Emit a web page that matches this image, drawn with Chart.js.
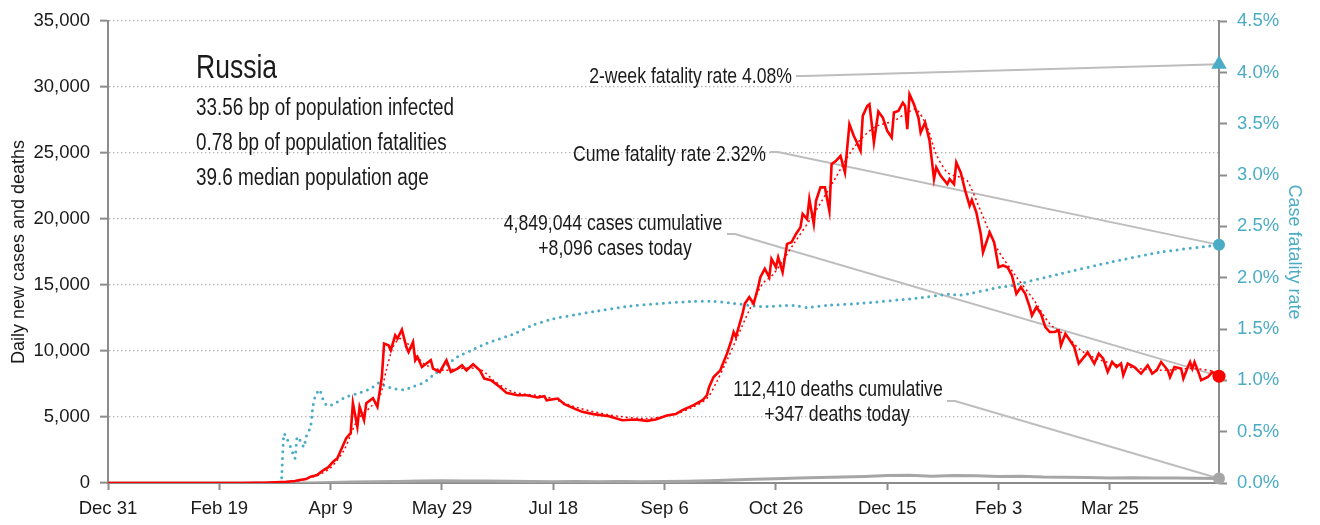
<!DOCTYPE html>
<html>
<head>
<meta charset="utf-8">
<script src="https://cdn.jsdelivr.net/npm/chart.js@4.4.1/dist/chart.umd.min.js"></script>
<style>
    html, body { margin: 0; padding: 0; background: #fff; }
    canvas { display: block; }
</style>
</head>
<body>
<canvas id="grafica" width="1320" height="525"></canvas>
<script>
// Eje X: dias contados desde el 31 de diciembre de 2019
const etiquetasX = ['Dec 31','Feb 19','Apr 9','May 29','Jul 18','Sep 6','Oct 26','Dec 15','Feb 3','Mar 25'];
const pasoDias = 50;
const ultimoDia = 499;

// Casos nuevos diarios
const diasCasos = [0,30,60,66,70,75,80,84,86,89,91,94,95,97,99,101,103,105,107,109,110,112,113,115,116,119,121,123,124,126,127,129,130,132,134,135,137,138,139,141,143,145,146,149,152,154,157,159,161,164,167,169,172,176,179,184,188,193,196,197,202,205,210,213,218,225,231,237,242,246,251,255,258,263,267,269,270,272,275,278,280,281,282,285,286,288,290,292,293,295,297,298,300,301,303,305,307,309,311,312,314,315,317,318,320,322,324,325,327,329,331,333,335,336,338,339,341,342,344,346,348,350,352,353,355,357,358,359,360,362,364,365,367,369,371,372,374,377,378,380,381,383,385,387,388,390,392,393,396,398,400,402,404,406,408,410,412,414,415,417,419,421,423,425,427,428,430,432,434,436,439,440,443,445,447,449,451,453,455,456,458,461,464,467,469,471,473,476,477,479,482,483,485,486,487,488,490,491,494,496,499];
const casosDiarios = [0,0,0,10,20,60,100,150,230,300,480,600,750,1000,1200,1600,1880,2640,3400,3780,6050,4260,5770,4760,6050,6420,5770,8030,10560,10430,10050,11190,10940,11620,10300,9920,10680,9300,9550,8790,9050,9300,8670,8410,9300,8410,8670,8920,8540,8990,8540,7910,7790,7280,6830,6650,6650,6480,6580,6270,6400,5970,5600,5390,5220,5060,4760,4810,4710,4810,5120,5220,5520,5900,6270,6650,7280,8030,8540,9800,10810,11440,11060,12830,13580,14080,13580,14840,15600,16230,15590,16980,16350,17100,15970,18120,18240,18870,19370,20390,20000,21520,19630,21390,22400,22400,20630,24160,24410,24790,23530,27190,26300,25930,25170,27820,28570,28700,25800,28140,27690,26680,26180,28070,28190,28820,28570,26810,29450,28700,27690,26550,27310,25930,23030,23910,23280,22650,23030,22650,24290,23530,22150,21010,21450,20510,18870,17480,19000,18240,16350,16480,16350,15720,14340,14840,14340,13330,12700,13330,12830,11810,11440,11440,11560,10430,11310,10810,10300,9050,9670,9920,9050,9800,9420,8410,9170,8790,9050,8160,9050,8790,8290,8920,8290,8540,9170,8540,8030,8790,8670,7910,8790,9170,8670,9170,8290,7790,8030,8410,8096];

// Promedio movil de 7 dias
const diasPromedio = [0,70,80,85,90,95,100,106,112,118,122,125,128,131,134,139,143,151,157,166,170,173,182,197,211,226,241,253,263,269,273,278,282,288,294,299,308,317,326,335,344,353,359,363,368,372,377,383,386,392,399,407,416,423,431,437,446,458,473,488,499];
const promedioCasos = [0,0,50,150,350,650,1150,2490,4760,5770,6520,8540,10300,10940,10680,9550,8920,8540,8670,8670,8290,7790,6900,6520,5700,5140,4890,5140,5770,6400,7540,9300,10810,13080,15090,15850,18120,20390,22900,25420,26930,27440,28070,28320,26930,24920,23530,23150,22900,20600,17860,15850,13830,12070,11060,10050,9300,8790,8540,8670,8400];

// Tasa de letalidad acumulada (%)
const diasTasa = [78,79,80,82,83,84,85,87,88,89,91,92,93,95,97,99,103,107,112,118,122,124,128,133,137,142,146,151,157,163,170,182,191,200,210,218,233,248,263,272,281,293,308,314,323,338,363,378,383,401,405,428,450,473,499];
const tasaLetalidad = [0.05,0.48,0.45,0.35,0.29,0.24,0.45,0.39,0.35,0.45,0.55,0.74,0.84,0.91,0.79,0.75,0.79,0.84,0.87,0.92,0.98,0.95,0.92,0.91,0.94,0.98,1.05,1.13,1.23,1.29,1.36,1.45,1.54,1.60,1.64,1.67,1.72,1.75,1.77,1.77,1.75,1.72,1.73,1.71,1.73,1.75,1.80,1.84,1.83,1.91,1.92,2.04,2.15,2.25,2.32];

// Muertes diarias
const diasMuertes = [0,90,95,100,110,120,130,140,150,160,170,180,190,200,210,220,230,240,250,260,270,280,290,300,310,320,330,340,350,360,370,380,390,400,410,420,430,440,450,460,470,480,490,499];
const muertesDiarias = [0,0,10,30,80,100,120,150,170,150,150,130,120,100,110,100,110,100,120,140,170,230,280,330,380,420,460,500,560,580,520,560,540,500,520,450,440,420,380,400,380,370,360,347];

// Valores del ultimo dia
const tasaDosSemanas = 4.08;
const tasaAcumulada = 2.32;
const casosHoy = 8096;
const muertesHoy = 347;
const casosAcumulados = 4849044;
const muertesAcumuladas = 112410;

const pais = 'Russia';
const datosPais = ['33.56 bp of population infected', '0.78 bp of population fatalities', '39.6 median population age'];

const fuente = "'Liberation Sans', Arial, sans-serif";
const rojo = '#FF0000';
const turquesa = '#4BACC6';
const gris = '#8C8C8C';

function puntos(dias, valores){
    return dias.map((d, i) => ({x: d, y: valores[i]}));
}

function marcador(valor, color, estilo, radio, eje){
    return {
        data: [{x: ultimoDia, y: valor}],
        yAxisID: eje,
        showLine: false,
        pointStyle: estilo,
        pointRadius: radio,
        backgroundColor: color,
        borderColor: color,
        borderWidth: 0,
        clip: false
    };
}

// Texto angosto: se comprime en horizontal
function textoAngosto(ctx, texto, x, y, tam, escala){
    ctx.save();
    ctx.font = tam + 'px ' + fuente;
    ctx.translate(x, y);
    ctx.scale(escala, 1);
    ctx.fillText(texto, 0, 0);
    ctx.restore();
}

// Lineas guia y textos
const anotaciones = {
    id: 'anotaciones',
    beforeDatasetsDraw(chart){
        const {ctx, scales} = chart;
        const xFin = scales.x.getPixelForValue(ultimoDia);
        const guias = [
            [796, 76, scales.y1.getPixelForValue(tasaDosSemanas)],
            [770, 152, scales.y1.getPixelForValue(tasaAcumulada)],
            [727, 234, scales.y.getPixelForValue(casosHoy)],
            [947, 401, scales.y.getPixelForValue(muertesHoy)]
        ];
        ctx.save();
        ctx.strokeStyle = '#BDBDBD';
        ctx.lineWidth = 2;
        guias.forEach(([x0, y0, yFin]) => {
            ctx.beginPath();
            ctx.moveTo(x0, y0);
            ctx.lineTo(x0 + 8, y0);
            ctx.lineTo(xFin, yFin);
            ctx.stroke();
        });
        ctx.restore();
    },
    afterDraw(chart){
        const ctx = chart.ctx;
        const n = v => v.toLocaleString('en-US');
        ctx.save();
        ctx.fillStyle = '#1a1a1a';
        ctx.textBaseline = 'alphabetic';

        // Bloque del pais
        ctx.textAlign = 'left';
        textoAngosto(ctx, pais, 196, 78, 34, 0.78);
        datosPais.forEach((t, i) => textoAngosto(ctx, t, 196, 115 + i * 35, 23, 0.82));

        // Textos de las guias
        ctx.textAlign = 'right';
        textoAngosto(ctx, '2-week fatality rate ' + tasaDosSemanas.toFixed(2) + '%', 792, 83, 21.5, 0.82);
        textoAngosto(ctx, 'Cume fatality rate ' + tasaAcumulada.toFixed(2) + '%', 766, 161, 21.5, 0.82);
        ctx.textAlign = 'center';
        textoAngosto(ctx, n(casosAcumulados) + ' cases cumulative', 613, 230, 21.5, 0.82);
        textoAngosto(ctx, '+' + n(casosHoy) + ' cases today', 615, 255, 21.5, 0.82);
        textoAngosto(ctx, n(muertesAcumuladas) + ' deaths cumulative', 838, 396, 21.5, 0.82);
        textoAngosto(ctx, '+' + n(muertesHoy) + ' deaths today', 837, 421, 21.5, 0.82);
        ctx.restore();
    }
};

const canvas = document.getElementById('grafica');

new Chart(canvas, {
    type: 'line',
    data: {
        datasets: [
            marcador(tasaDosSemanas, turquesa, 'triangle', 9, 'y1'),
            marcador(tasaAcumulada, turquesa, 'circle', 6, 'y1'),
            marcador(casosHoy, rojo, 'circle', 6.5, 'y'),
            marcador(muertesHoy, '#A6A6A6', 'circle', 6, 'y'),
            // Casos diarios
            {
                data: puntos(diasCasos, casosDiarios),
                yAxisID: 'y',
                borderColor: rojo,
                borderWidth: 2.6,
                pointRadius: 0,
                tension: 0
            },
            // Promedio de 7 dias
            {
                data: puntos(diasPromedio, promedioCasos),
                yAxisID: 'y',
                borderColor: rojo,
                borderWidth: 1.5,
                borderDash: [2, 3],
                pointRadius: 0,
                tension: 0.3
            },
            // Tasa de letalidad
            {
                data: puntos(diasTasa, tasaLetalidad),
                yAxisID: 'y1',
                borderColor: turquesa,
                borderWidth: 3,
                borderDash: [0, 6.5],
                borderCapStyle: 'round',
                pointRadius: 0,
                tension: 0.2
            },
            // Muertes diarias
            {
                data: puntos(diasMuertes, muertesDiarias),
                yAxisID: 'y',
                borderColor: '#A6A6A6',
                borderWidth: 3,
                pointRadius: 0,
                tension: 0
            }
        ]
    },
    options: {
        responsive: false,
        animation: false,
        events: [],
        layout: { padding: { top: 20, left: 0, right: 0, bottom: 0 } },
        plugins: {
            legend: { display: false },
            tooltip: { enabled: false }
        },
        scales: {
            x: {
                type: 'linear',
                min: 0,
                max: ultimoDia,
                afterFit: s => { s.height = 42; },
                // Una marca cada 50 dias
                afterBuildTicks: s => {
                    s.ticks = etiquetasX.map((_, i) => ({value: i * pasoDias}));
                },
                ticks: {
                    autoSkip: false,
                    maxRotation: 0,
                    padding: 8,
                    color: '#1a1a1a',
                    font: { family: fuente, size: 18.5 },
                    callback: (v, i) => etiquetasX[i]
                },
                grid: { drawOnChartArea: false, tickLength: 7, tickColor: gris, tickWidth: 2 },
                border: { color: gris, width: 2 }
            },
            y: {
                position: 'left',
                min: 0,
                max: 35000,
                afterFit: s => { s.width = 108; },
                ticks: {
                    stepSize: 5000,
                    padding: 10,
                    color: '#1a1a1a',
                    font: { family: fuente, size: 18.5 },
                    callback: v => v.toLocaleString('en-US')
                },
                grid: {
                    color: c => c.tick.value === 0 ? 'rgba(0,0,0,0)' : '#B5B5B5',
                    lineWidth: 1.3,
                    tickLength: 8,
                    tickColor: gris,
                    tickWidth: 2
                },
                border: { color: gris, width: 2, dash: [1.5, 2.5] },
                title: {
                    display: true,
                    text: 'Daily new cases and deaths',
                    color: '#1a1a1a',
                    font: { family: fuente, size: 18 },
                    padding: { top: 8, bottom: 0 }
                }
            },
            y1: {
                position: 'right',
                min: 0,
                max: 4.5,
                afterFit: s => { s.width = 101; },
                ticks: {
                    stepSize: 0.5,
                    padding: 10,
                    color: turquesa,
                    font: { family: fuente, size: 18.5 },
                    callback: v => v.toFixed(1) + '%'
                },
                grid: { drawOnChartArea: false, tickLength: 8, tickColor: gris, tickWidth: 2 },
                border: { color: gris, width: 2 },
                title: {
                    display: true,
                    text: 'Case fatality rate',
                    color: turquesa,
                    font: { family: fuente, size: 18 },
                    padding: { top: 15, bottom: 0 }
                }
            }
        }
    },
    plugins: [anotaciones]
});
</script>
</body>
</html>
